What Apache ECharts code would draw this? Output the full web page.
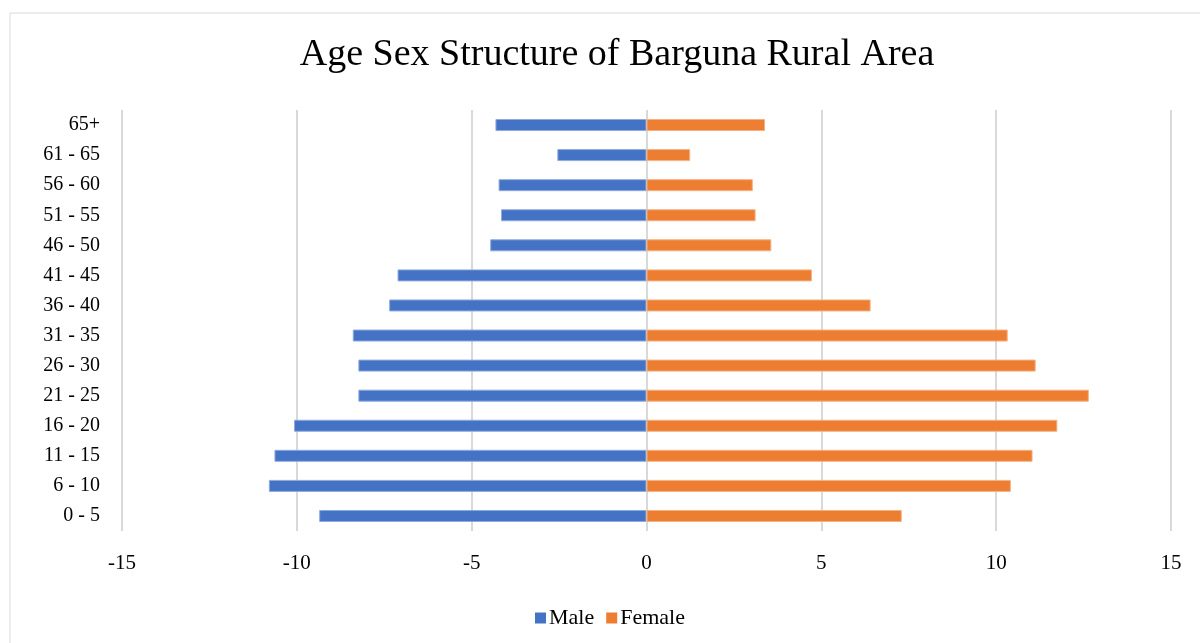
<!DOCTYPE html>
<html>
<head>
<meta charset="utf-8">
<script src="https://cdn.jsdelivr.net/npm/echarts@6/dist/echarts.min.js"></script>
<style>
  html, body { margin: 0; padding: 0; background: #fff; }
  #chart { width: 1200px; height: 643px; }
</style>
</head>
<body>
<div id="chart"></div>
<script>
// Age groups, youngest first (drawn from the bottom up)
const ageGroups = ['0 - 5', '6 - 10', '11 - 15', '16 - 20', '21 - 25', '26 - 30', '31 - 35',
                   '36 - 40', '41 - 45', '46 - 50', '51 - 55', '56 - 60', '61 - 65', '65+'];
// Percent of population; male shown on the negative side
const male   = [-9.36, -10.80, -10.64, -10.08, -8.24, -8.24, -8.40, -7.36, -7.12, -4.47, -4.16, -4.23, -2.55, -4.32];
const female = [7.30, 10.42, 11.04, 11.75, 12.65, 11.13, 10.33, 6.41, 4.73, 3.57, 3.12, 3.04, 1.25, 3.39];
const xTicks = { min: -15, max: 15, step: 5 };

const serif = '"Liberation Serif", "DejaVu Serif", serif';
const chart = echarts.init(document.getElementById('chart'), null, { renderer: 'canvas' });

chart.setOption({
  backgroundColor: '#fff',
  animation: false,
  graphic: [{
    type: 'rect',
    shape: { x: 10, y: 13, width: 1200, height: 640 },
    style: { fill: 'none', stroke: '#d9d9d9', lineWidth: 1 },
    silent: true
  }],
  title: {
    text: 'Age Sex Structure of Barguna Rural Area',
    left: 612, top: 31, textAlign: 'center',
    textStyle: { fontFamily: serif, fontSize: 38, fontWeight: 'normal', color: '#000' }
  },
  legend: {
    data: ['Male', 'Female'],
    left: 530, top: 602,
    itemWidth: 11, itemHeight: 11, itemGap: 12,
    icon: 'rect',
    itemStyle: { borderWidth: 0 },
    textStyle: { fontFamily: serif, fontSize: 22, color: '#000', padding: [0, 0, 0, -2] }
  },
  grid: { left: 122, right: 29, top: 110, bottom: 112, containLabel: false },
  xAxis: {
    type: 'value',
    min: xTicks.min, max: xTicks.max, interval: xTicks.step,
    axisLine: { show: false },
    axisTick: { show: false },
    splitLine: { show: true, lineStyle: { color: '#d9d9d9', width: 2 } },
    axisLabel: { fontFamily: serif, fontSize: 21, color: '#000', margin: 22 }
  },
  yAxis: {
    type: 'category',
    data: ageGroups,
    position: 'left',
    axisLine: { show: false },
    axisTick: { show: false },
    axisLabel: { fontFamily: serif, fontSize: 20, color: '#000', margin: 22 }
  },
  series: [
    {
      name: 'Male', type: 'bar', data: male,
      barWidth: 12, barGap: '-100%',
      itemStyle: { color: '#4472C4', borderColor: '#8faadc', borderWidth: 1 }
    },
    {
      name: 'Female', type: 'bar', data: female,
      barWidth: 12, barGap: '-100%',
      itemStyle: { color: '#ED7D31', borderColor: '#f4b183', borderWidth: 1 }
    }
  ]
});
</script>
</body>
</html>
